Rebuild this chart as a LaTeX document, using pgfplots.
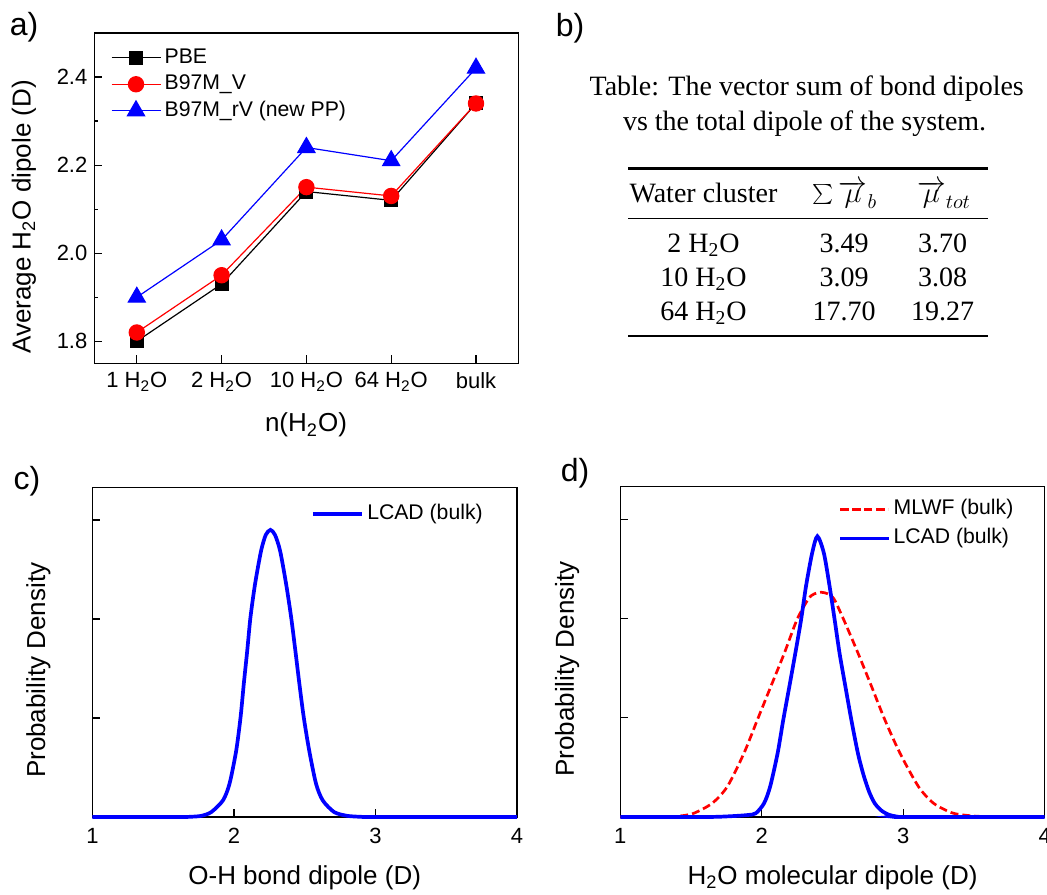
\documentclass[border=0pt]{standalone}
\usepackage{fontspec}
\setmainfont{Liberation Sans}
\newfontfamily\tnr{Liberation Serif}
\usepackage{pgfplots}
\pgfplotsset{compat=1.18}

\definecolor{myblue}{RGB}{0,0,255}
\definecolor{myred}{RGB}{255,0,0}

\pgfplotsset{
 common/.style={
  scale only axis,
  axis line style={line width=0.7pt, black},
  tick align=inside,
  xtick pos=bottom, ytick pos=left,
  major tick length=4pt, minor tick length=2pt,
  tick style={line width=0.6pt, black},
  tick label style={font=\fontsize{11}{13}\selectfont},
  label style={font=\fontsize{13}{15}\selectfont},
  /pgf/number format/assume math mode=true,
  legend cell align=left,
  legend style={draw=none, fill=none, inner sep=0pt, anchor=north west,
    font=\fontsize{10.6}{12}\selectfont,
    nodes={inner ysep=0pt, inner xsep=1.75pt, text height=8pt, text depth=2.5pt}},
 },
}

\begin{document}
\begin{tikzpicture}

% ---------------- panel a ----------------
\begin{axis}[common,
  at={(47.2pt,-181.65pt)}, anchor=south west,
  width=212pt, height=165.15pt,
  xmin=-0.5, xmax=4.5, ymin=1.75, ymax=2.5,
  xtick={0,1,2,3,4},
  xticklabels={1 H\textsubscript{2}O, 2 H\textsubscript{2}O, 10 H\textsubscript{2}O, 64 H\textsubscript{2}O, bulk},
  xticklabel style={yshift=-1pt},
  ytick={1.8,2.0,2.2,2.4},
  minor ytick={1.9,2.1,2.3},
  yticklabel style={/pgf/number format/.cd, fixed, fixed zerofill, precision=1},
  xlabel={n(H\textsubscript{2}O)},
  ylabel={Average H\textsubscript{2}O dipole (D)},
  xlabel style={at={(axis description cs:0.499,-0.187)}, anchor=center},
  ylabel style={at={(axis description cs:-0.166,0.443)}, anchor=center},
  legend style={at={(axis description cs:0.038,0.958)}, row sep=2.75pt},
  legend image code/.code={\draw[mark repeat=2, mark phase=2] plot coordinates {(0pt,0pt) (12.25pt,0pt) (24.5pt,0pt)};},
  clip=false]
\addplot[black, line width=0.6pt, mark=square*, mark size=3.2pt] coordinates {(0,1.80)(1,1.93)(2,2.14)(3,2.12)(4,2.34)};
\addlegendentry{PBE}
\addplot[myred, line width=0.6pt, mark=*, mark size=3.8pt] coordinates {(0,1.82)(1,1.95)(2,2.15)(3,2.13)(4,2.34)};
\addlegendentry{B97M\_V}
\addplot[myblue, line width=0.6pt, mark=triangle*, mark size=4.9pt] coordinates {(0,1.90)(1,2.03)(2,2.24)(3,2.21)(4,2.42)};
\addlegendentry{B97M\_rV (new PP)}
\end{axis}

% ---------------- panel c ----------------
\begin{axis}[common,
  at={(46.2pt,-408.5pt)}, anchor=south west,
  width=212.3pt, height=164.85pt,
  xmin=1, xmax=4, ymin=0, ymax=3.33,
  xtick={1,2,3,4}, ytick={1,2,3}, yticklabels={},
  xticklabel style={yshift=-2pt},
  xlabel={O-H bond dipole (D)},
  ylabel={Probability Density},
  xlabel style={at={(axis description cs:0.5,-0.183)}, anchor=center},
  ylabel style={at={(axis description cs:-0.127,0.445)}, anchor=center},
  legend style={at={(axis description cs:0.514,0.953)}},
  legend image code/.code={\draw plot coordinates {(0pt,0pt) (24.5pt,0pt)};},
  clip=false]
\addplot[myblue, line width=1.85pt, smooth, tension=0.45] coordinates {
(1.0,0) (1.6,0) (1.7,0.003) (1.77,0.012) (1.84,0.05) (1.923,0.169) (1.969,0.337)
(2.016,0.67) (2.047,1.01) (2.070,1.35) (2.094,1.68) (2.117,2.02) (2.150,2.36)
(2.192,2.69) (2.225,2.85) (2.258,2.90) (2.29,2.85) (2.326,2.69) (2.368,2.36)
(2.404,2.02) (2.434,1.68) (2.462,1.35) (2.493,1.01) (2.532,0.67) (2.580,0.337)
(2.627,0.169) (2.708,0.05) (2.80,0.012) (2.9,0.002) (3.0,0) (4,0)};
\addlegendentry{LCAD (bulk)}
\end{axis}

% ---------------- panel d ----------------
\begin{axis}[common,
  at={(310.15pt,-408.5pt)}, anchor=south west,
  width=212.2pt, height=165.15pt,
  xmin=1, xmax=4, ymin=0, ymax=3.33,
  xtick={1,2,3,4}, ytick={1,2,3}, yticklabels={},
  xticklabel style={yshift=-2pt},
  xlabel={H\textsubscript{2}O molecular dipole (D)},
  ylabel={Probability Density},
  xlabel style={at={(axis description cs:0.5,-0.183)}, anchor=center},
  ylabel style={at={(axis description cs:-0.125,0.448)}, anchor=center},
  legend style={at={(axis description cs:0.513,0.964)}, row sep=4pt},
  legend image code/.code={\draw plot coordinates {(0pt,0pt) (24pt,0pt)};},
  clip=false]
\addplot[myred, line width=1.35pt, dash pattern=on 4pt off 2pt, smooth, tension=0.45] coordinates {
(1.0,0) (1.3,0.0) (1.42,0.01) (1.518,0.037) (1.649,0.138) (1.756,0.306) (1.874,0.643)
(1.969,0.98) (2.064,1.316) (2.159,1.65) (2.249,1.99) (2.33,2.20) (2.372,2.25)
(2.42,2.266) (2.467,2.25) (2.51,2.20) (2.579,1.99) (2.681,1.65) (2.776,1.316)
(2.870,0.98) (2.977,0.643) (3.108,0.306) (3.215,0.138) (3.35,0.04) (3.5,0.01)
(3.7,0) (4,0)};
\addlegendentry{MLWF (bulk)}
\addplot[myblue, line width=1.85pt, smooth, tension=0.45] coordinates {
(1.0,0) (1.6,0.0) (1.78,0.008) (1.90,0.02) (1.957,0.037) (2.016,0.138) (2.059,0.306)
(2.112,0.643) (2.152,0.98) (2.195,1.316) (2.237,1.65) (2.278,1.99) (2.313,2.33)
(2.356,2.66) (2.393,2.83) (2.439,2.66) (2.479,2.33) (2.515,1.99) (2.550,1.65)
(2.591,1.316) (2.633,0.98) (2.68,0.64) (2.72,0.42) (2.76,0.25) (2.80,0.135)
(2.85,0.06) (2.90,0.022) (2.95,0.006) (3.0,0) (4,0)};
\addlegendentry{LCAD (bulk)}
\end{axis}

% ---------------- panel labels ----------------
\node[font=\fontsize{16}{18}\selectfont] at (12pt,-13.5pt) {a)};
\node[font=\fontsize{16}{18}\selectfont] at (285pt,-14pt) {b)};
\node[font=\fontsize{16}{18}\selectfont] at (13.5pt,-240.5pt) {c)};
\node[font=\fontsize{16}{18}\selectfont] at (287.5pt,-236.5pt) {d)};

% ---------------- panel b: table ----------------
\begin{scope}[every node/.style={font=\tnr\fontsize{14}{16}\selectfont, anchor=base, inner sep=0pt}]
\node at (403.35pt,-47.5pt) {Table: The vector sum of bond dipoles};
\node at (402.3pt,-65pt) {vs the total dipole of the system.};
\draw[line width=1.3pt] (314pt,-84.2pt) -- (494pt,-84.2pt);
\node at (351.75pt,-101pt) {Water cluster};
\node at (422.5pt,-101pt) {$\sum \overrightarrow{\mu}_b$};
\node at (472pt,-101pt) {$\overrightarrow{\mu}_{tot}$};
\draw[line width=0.65pt] (314pt,-109.2pt) -- (494pt,-109.2pt);
\node at (351.75pt,-126pt) {2 H\textsubscript{2}O};
\node at (422pt,-126pt) {3.49};
\node at (471.25pt,-126pt) {3.70};
\node at (351.75pt,-143pt) {10 H\textsubscript{2}O};
\node at (422pt,-143pt) {3.09};
\node at (471.25pt,-143pt) {3.08};
\node at (351.75pt,-160pt) {64 H\textsubscript{2}O};
\node at (422pt,-160pt) {17.70};
\node at (471.25pt,-160pt) {19.27};
\draw[line width=1.3pt] (314pt,-168pt) -- (494pt,-168pt);
\end{scope}

\pgfresetboundingbox
\path[use as bounding box] (0pt,0pt) rectangle (523.5pt,-447pt);
\end{tikzpicture}
\end{document}
